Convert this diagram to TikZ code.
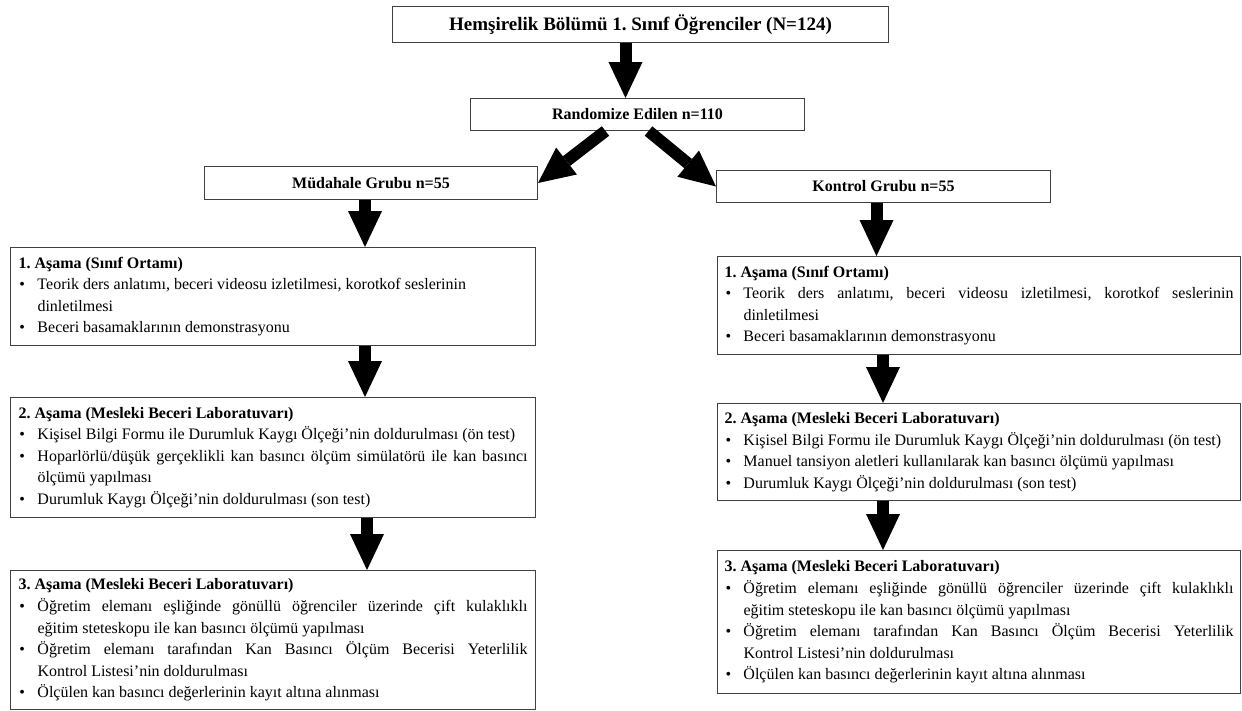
\documentclass[tikz,border=0pt]{standalone}
\usepackage{fontspec}
\setmainfont{Liberation Serif}
\usetikzlibrary{arrows.meta}
\frenchspacing
\newcommand{\bul}{\par\noindent\hangindent=19pt\hangafter=1\makebox[19pt][l]{\hspace{1pt}•}}
\tikzset{
  box/.style={draw=black!75, line width=1pt, fill=white, inner sep=0pt, anchor=north west},
  titlebox/.style={box, font=\bfseries\fontsize{16}{18}\selectfont, align=center},
  leftstage/.style={box, inner xsep=8pt, inner ysep=0pt, text width=509pt, align=justify, font=\fontsize{16}{21.6}\selectfont},
  rightstage/.style={box, inner xsep=7pt, inner ysep=0pt, text width=509pt, align=justify, font=\fontsize{16}{21.6}\selectfont},
  blk/.style={draw=black, line width=12pt, -{Triangle[length=36pt, width=34pt, line width=0pt]}},
}
\begin{document}
\begin{tikzpicture}[x=1pt, y=-1pt]
\useasboundingbox (0,0) rectangle (1242,710);
\fill[white] (0,0) rectangle (1242,710);

\node[titlebox, font=\bfseries\fontsize{19}{22}\selectfont, minimum width=496pt, minimum height=36pt] (top) at (392,6) {Hemşirelik Bölümü 1. Sınıf Öğrenciler (N=124)};
\node[titlebox, minimum width=334pt, minimum height=32pt] (rand) at (470,98) {Randomize Edilen n=110};
\node[titlebox, minimum width=333pt, minimum height=33pt] (mud) at (204,166) {Müdahale Grubu n=55};
\node[titlebox, minimum width=334pt, minimum height=32pt] (kon) at (716,170) {Kontrol Grubu n=55};

\node[leftstage, minimum height=98pt] (L1) at (10,247) {\noindent\textbf{1. Aşama (Sınıf Ortamı)}%
\bul Teorik ders anlatımı, beceri videosu izletilmesi, korotkof seslerinin\newline dinletilmesi%
\bul Beceri basamaklarının demonstrasyonu\par};
\node[leftstage, minimum height=120pt] (L2) at (10,397) {\noindent\textbf{2. Aşama (Mesleki Beceri Laboratuvarı)}%
\bul Kişisel Bilgi Formu ile Durumluk Kaygı Ölçeği’nin doldurulması (ön test)%
\bul Hoparlörlü/düşük gerçeklikli kan basıncı ölçüm simülatörü ile kan basıncı\linebreak ölçümü yapılması%
\bul Durumluk Kaygı Ölçeği’nin doldurulması (son test)\par};
\node[leftstage, minimum height=139pt] (L3) at (10,570) {\noindent\textbf{3. Aşama (Mesleki Beceri Laboratuvarı)}%
\bul Öğretim elemanı eşliğinde gönüllü öğrenciler üzerinde çift kulaklıklı\linebreak eğitim steteskopu ile kan basıncı ölçümü yapılması%
\bul Öğretim elemanı tarafından Kan Basıncı Ölçüm Becerisi Yeterlilik\linebreak Kontrol Listesi’nin doldurulması%
\bul Ölçülen kan basıncı değerlerinin kayıt altına alınması\par};

\node[rightstage, minimum height=98pt] (R1) at (717,256) {\noindent\textbf{1. Aşama (Sınıf Ortamı)}%
\bul Teorik ders anlatımı, beceri videosu izletilmesi, korotkof seslerinin\linebreak dinletilmesi%
\bul Beceri basamaklarının demonstrasyonu\par};
\node[rightstage, minimum height=97pt] (R2) at (717,403) {\noindent\textbf{2. Aşama (Mesleki Beceri Laboratuvarı)}%
\bul Kişisel Bilgi Formu ile Durumluk Kaygı Ölçeği’nin doldurulması (ön test)%
\bul Manuel tansiyon aletleri kullanılarak kan basıncı ölçümü yapılması%
\bul Durumluk Kaygı Ölçeği’nin doldurulması (son test)\par};
\node[rightstage, minimum height=143pt] (R3) at (717,550) {\noindent\textbf{3. Aşama (Mesleki Beceri Laboratuvarı)}%
\bul Öğretim elemanı eşliğinde gönüllü öğrenciler üzerinde çift kulaklıklı\linebreak eğitim steteskopu ile kan basıncı ölçümü yapılması%
\bul Öğretim elemanı tarafından Kan Basıncı Ölçüm Becerisi Yeterlilik\linebreak Kontrol Listesi’nin doldurulması%
\bul Ölçülen kan basıncı değerlerinin kayıt altına alınması\par};

\draw[blk] ([xshift=-15pt]top.south) -- ([xshift=-15pt]top.south |- rand.north);
\draw[blk] ([xshift=-32pt]rand.south) -- (mud.east);
\draw[blk] ([xshift=11pt]rand.south) -- (kon.west);
\draw[blk] ([xshift=-6pt]mud.south) -- ([xshift=-6pt]mud.south |- L1.north);
\draw[blk] ([xshift=92pt]L1.south) -- ([xshift=92pt]L2.north);
\draw[blk] ([xshift=94pt]L2.south) -- ([xshift=94pt]L3.north);
\draw[blk] ([xshift=-7pt]kon.south) -- ([xshift=-7pt]kon.south |- R1.north);
\draw[blk] ([xshift=-96pt]R1.south) -- ([xshift=-96pt]R2.north);
\draw[blk] ([xshift=-96pt]R2.south) -- ([xshift=-96pt]R3.north);
\end{tikzpicture}
\end{document}
